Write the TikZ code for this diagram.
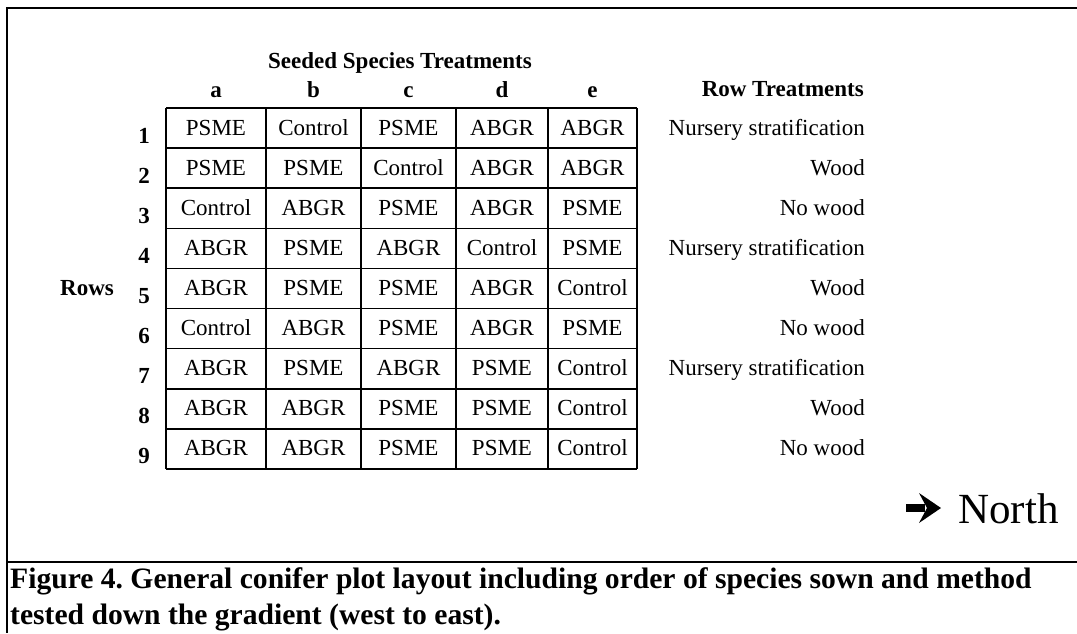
\documentclass[tikz,border=0pt]{standalone}
\usepackage{fontspec}
\setmainfont{Liberation Serif}
\frenchspacing
\begin{document}
\begin{tikzpicture}[x=1pt,y=-1pt,
  txt/.style={inner sep=0pt,anchor=base,font=\fontsize{23}{27}\selectfont},
  hdr/.style={inner sep=0pt,anchor=base,font=\fontsize{23}{27}\selectfont\bfseries},
  rtr/.style={inner sep=0pt,anchor=base east,font=\fontsize{23}{27}\selectfont},
  captxt/.style={inner sep=0pt,anchor=base west,font=\fontsize{29.6}{34}\selectfont\bfseries},
  gridline/.style={line width=1.5pt},
  frameline/.style={line width=1.3pt},
  thickframe/.style={line width=2.3pt}]
\useasboundingbox (0,0) rectangle (1077,633);
% frame
\draw[frameline] (7,8) -- (1077,8);
\draw[thickframe] (7,8) -- (37,8);
\draw[thickframe] (903,8) -- (1077,8);
\draw[thickframe] (7,7) -- (7,633);
\draw[line width=2.6pt] (7,562) -- (1077,562);
% headers
\node[hdr] (sst) at (400,68) {Seeded Species Treatments};
\node[hdr] (ha) at (216,97) {a};
\node[hdr] (hb) at (313.5,97) {b};
\node[hdr] (hc) at (408.5,97) {c};
\node[hdr] (hd) at (502,97) {d};
\node[hdr] (he) at (592.5,97) {e};
\node[hdr,anchor=base east] (hrt) at (864,96) {Row Treatments};
\node[hdr] (rows) at (87,295) {Rows};
% grid
\foreach \xx in {166,266,361,456,548,637}
  \draw[gridline] (\xx,108) -- (\xx,469);
\foreach \i in {0,...,9}
  \draw[gridline] (166,108+40.11*\i) -- (637,108+40.11*\i);
% cells
\foreach \r/\va/\vb/\vc/\vd/\ve/\vt in {
  1/PSME/Control/PSME/ABGR/ABGR/Nursery stratification,
  2/PSME/PSME/Control/ABGR/ABGR/Wood,
  3/Control/ABGR/PSME/ABGR/PSME/No wood,
  4/ABGR/PSME/ABGR/Control/PSME/Nursery stratification,
  5/ABGR/PSME/PSME/ABGR/Control/Wood,
  6/Control/ABGR/PSME/ABGR/PSME/No wood,
  7/ABGR/PSME/ABGR/PSME/Control/Nursery stratification,
  8/ABGR/ABGR/PSME/PSME/Control/Wood,
  9/ABGR/ABGR/PSME/PSME/Control/No wood}{
  \pgfmathsetmacro{\yc}{108+40.11*(\r-0.5)}
  \node[hdr] (n\r) at (144,\yc+15) {\r};
  \node[txt] (c\r a) at (216,\yc+7) {\va};
  \node[txt] (c\r b) at (313.5,\yc+7) {\vb};
  \node[txt] (c\r c) at (408.5,\yc+7) {\vc};
  \node[txt] (c\r d) at (502,\yc+7) {\vd};
  \node[txt] (c\r e) at (592.5,\yc+7) {\ve};
  \node[rtr] (t\r) at (865,\yc+7) {\vt};
}
% north arrow
\fill (906,504) rectangle (925,512);
\fill (919,493) -- (941,508) -- (919,523) -- (927,508) -- cycle;
\node[inner sep=0pt,anchor=base west,font=\fontsize{43}{48}\selectfont] (north) at (958,523) {North};
% caption
\node[captxt] (cap1) at (10,588) {Figure 4. General conifer plot layout including order of species sown and method};
\node[captxt] (cap2) at (10,624) {tested down the gradient (west to east).};
\end{tikzpicture}
\end{document}
